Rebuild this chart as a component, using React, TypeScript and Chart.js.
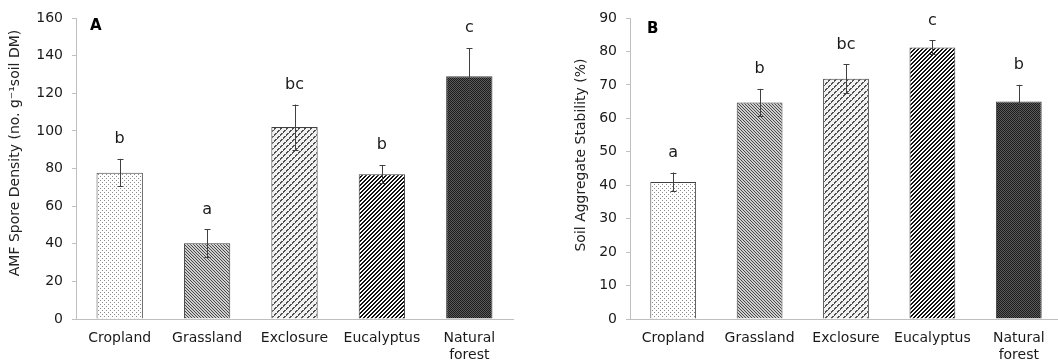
import React, { useEffect, useRef } from 'react';
import { Chart, registerables } from 'chart.js';

Chart.register(...registerables);

const categories: (string | string[])[] = ['Cropland', 'Grassland', 'Exclosure', 'Eucalyptus', ['Natural', 'forest']];

const sporeMeans = [77.8, 40.2, 102, 77, 129];
const sporeErrors = [7.3, 7.4, 12, 4.9, 15];
const sporeLetters = ['b', 'a', 'bc', 'b', 'c'];
const sporeMax = 160;
const sporeStep = 20;

const stabilityMeans = [41, 64.7, 71.8, 81.2, 65];
const stabilityErrors = [2.8, 4.1, 4.3, 2.1, 5];
const stabilityLetters = ['a', 'b', 'bc', 'c', 'b'];
const stabilityMax = 90;
const stabilityStep = 10;

const FONT = '"DejaVu Sans", Verdana, sans-serif';
const AXIS_GRAY = '#bfbfbf';
const TEXT = '#1a1a1a';

function tile(size: number, bg: string, fg: string, test: (x: number, y: number) => boolean) {
  const c = document.createElement('canvas');
  c.width = size;
  c.height = size;
  const g = c.getContext('2d')!;
  g.fillStyle = bg;
  g.fillRect(0, 0, size, size);
  g.fillStyle = fg;
  for (let y = 0; y < size; y++) {
    for (let x = 0; x < size; x++) {
      if (test(x, y)) g.fillRect(x, y, 1, 1);
    }
  }
  return c;
}

function makePatterns(ctx: CanvasRenderingContext2D) {
  const dots = tile(4, '#ffffff', '#8a8a8a', (x, y) => (x === 0 && y === 0) || (x === 2 && y === 2));
  const fineDiag = tile(3, '#cfcfcf', '#484848', (x, y) => x === y);
  const weave = tile(6, '#f2f2f2', '#505050', (x, y) => (x + y) % 6 < 2 && (x - y + 12) % 6 !== 0);
  const wideDiag = tile(4, '#ffffff', '#111111', (x, y) => (x + y) % 4 < 2);
  const checker = tile(2, '#5a5a5a', '#1c1c1c', (x, y) => (x + y) % 2 === 0);
  return [dots, fineDiag, weave, wideDiag, checker].map((c) => ctx.createPattern(c, 'repeat')!);
}

const annotPlugin = {
  id: 'annot',
  afterDatasetsDraw(chart: any, _args: any, opts: any) {
    const { ctx, chartArea } = chart;
    const meta = chart.getDatasetMeta(0);
    const yScale = chart.scales.y;
    ctx.save();
    meta.data.forEach((bar: any, i: number) => {
      const m = opts.means[i];
      const e = opts.errors[i];
      const x = Math.round(bar.x) + 0.5;
      const yt = yScale.getPixelForValue(m + e);
      const yb = yScale.getPixelForValue(m - e);
      ctx.strokeStyle = '#404040';
      ctx.lineWidth = 1;
      ctx.beginPath();
      ctx.moveTo(x, yt);
      ctx.lineTo(x, yb);
      ctx.moveTo(x - 3, Math.round(yt) + 0.5);
      ctx.lineTo(x + 3, Math.round(yt) + 0.5);
      ctx.moveTo(x - 3, Math.round(yb) + 0.5);
      ctx.lineTo(x + 3, Math.round(yb) + 0.5);
      ctx.stroke();
      ctx.fillStyle = TEXT;
      ctx.font = `16px ${FONT}`;
      ctx.textAlign = 'center';
      ctx.textBaseline = 'middle';
      ctx.fillText(opts.letters[i], bar.x, yt - 20);
    });
    // panel letter
    ctx.font = `bold 15px ${FONT}`;
    ctx.textAlign = 'left';
    ctx.textBaseline = 'middle';
    ctx.fillStyle = '#000';
    ctx.fillText(opts.panel, chartArea.left + opts.panelDx, chartArea.top + opts.panelDy);
    // y-axis title
    ctx.translate(opts.titleX, opts.titleY);
    ctx.rotate(-Math.PI / 2);
    ctx.font = `14px ${FONT}`;
    ctx.fillStyle = '#222';
    ctx.textAlign = 'center';
    ctx.textBaseline = 'middle';
    ctx.fillText(opts.yTitle, 0, 0);
    ctx.restore();
  },
};

type PanelProps = {
  left: number;
  width: number;
  axisWidth: number;
  rightPad: number;
  means: number[];
  errors: number[];
  letters: string[];
  max: number;
  step: number;
  yTitle: string;
  titleX: number;
  titleY: number;
  panel: string;
  panelDx: number;
  panelDy: number;
};

function Panel(p: PanelProps) {
  const ref = useRef<HTMLCanvasElement>(null);
  useEffect(() => {
    const canvas = ref.current!;
    const ctx = canvas.getContext('2d')!;
    const patterns = makePatterns(ctx);
    const chart = new Chart(ctx, {
      type: 'bar',
      data: {
        labels: categories,
        datasets: [
          {
            data: p.means,
            backgroundColor: patterns as any,
            borderColor: '#404040',
            borderWidth: 1,
            barPercentage: 0.53,
            categoryPercentage: 1,
          },
        ],
      },
      options: {
        responsive: false,
        animation: false,
        devicePixelRatio: 1,
        layout: { padding: { left: 0, right: p.rightPad, top: 18, bottom: 0 } },
        plugins: {
          legend: { display: false },
          tooltip: { enabled: false },
          annot: {
            means: p.means,
            errors: p.errors,
            letters: p.letters,
            panel: p.panel,
            panelDx: p.panelDx,
            panelDy: p.panelDy,
            yTitle: p.yTitle,
            titleX: p.titleX,
            titleY: p.titleY,
          },
        } as any,
        scales: {
          x: {
            grid: { display: false, drawTicks: false, tickLength: 0 },
            border: { display: true, color: AXIS_GRAY, width: 1 },
            ticks: {
              font: { family: FONT, size: 14, lineHeight: 1.2 },
              color: TEXT,
              padding: 11,
              maxRotation: 0,
              autoSkip: false,
            },
            afterFit: (s: any) => {
              s.height = 43;
            },
          },
          y: {
            min: 0,
            max: p.max,
            ticks: {
              stepSize: p.step,
              font: { family: FONT, size: 14 },
              color: TEXT,
              padding: 9,
            },
            grid: {
              display: true,
              drawOnChartArea: false,
              drawTicks: true,
              tickLength: 4,
              color: AXIS_GRAY,
            },
            border: { display: true, color: AXIS_GRAY, width: 1 },
            title: { display: false },
            afterFit: (s: any) => {
              s.width = p.axisWidth;
            },
          },
        },
      },
      plugins: [annotPlugin],
    });
    return () => chart.destroy();
  }, []);
  return (
    <canvas
      ref={ref}
      width={p.width}
      height={362}
      style={{ position: 'absolute', left: p.left, top: 0, width: p.width, height: 362 }}
    />
  );
}

export default function App() {
  return (
    <div style={{ position: 'absolute', left: 0, top: 0, width: 1058, height: 362, background: '#fff', overflow: 'hidden' }}>
      <Panel
        left={0}
        width={525}
        axisWidth={76}
        rightPad={12}
        means={sporeMeans}
        errors={sporeErrors}
        letters={sporeLetters}
        max={sporeMax}
        step={sporeStep}
        yTitle="AMF Spore Density (no. g⁻¹soil DM)"
        titleX={15}
        titleY={153}
        panel="A"
        panelDx={14}
        panelDy={8}
      />
      <Panel
        left={530}
        width={532}
        axisWidth={100}
        rightPad={0}
        means={stabilityMeans}
        errors={stabilityErrors}
        letters={stabilityLetters}
        max={stabilityMax}
        step={stabilityStep}
        yTitle="Soil Aggregate Stability (%)"
        titleX={51}
        titleY={155}
        panel="B"
        panelDx={17}
        panelDy={11}
      />
    </div>
  );
}
